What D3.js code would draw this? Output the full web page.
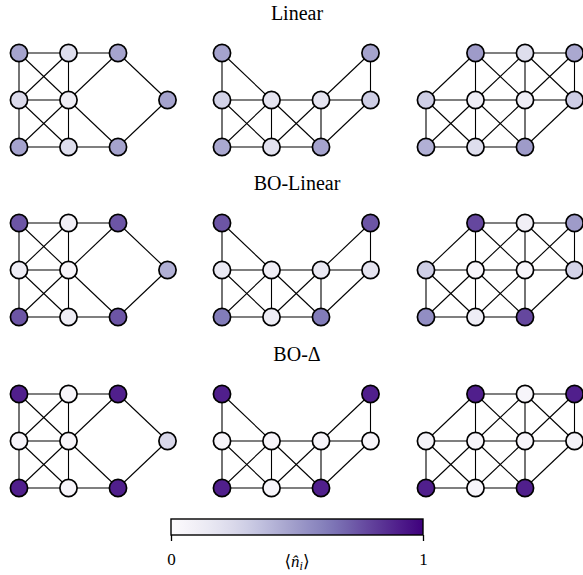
<!DOCTYPE html>
<html>
<head>
<meta charset="utf-8">
<script src="https://cdn.jsdelivr.net/npm/d3@7"></script>
<style>
  body { margin: 0; background: #fff; }
  text { font-family: "Liberation Serif", "DejaVu Serif", serif; }
</style>
</head>
<body>
<div id="chart"></div>
<script>
// row titles
var titles = ['Linear', 'BO-Linear', 'BO-\u0394'];

// lattice layouts (grid column, grid row) for the three clusters
var nodesA = [[0,0],[1,0],[2,0],[0,1],[1,1],[3,1],[0,2],[1,2],[2,2]];
var nodesB = [[0,0],[3,0],[0,1],[1,1],[2,1],[3,1],[0,2],[1,2],[2,2]];
var nodesC = [[1,0],[2,0],[3,0],[0,1],[1,1],[2,1],[3,1],[0,2],[1,2],[2,2]];

// edges as index pairs into the node arrays
var edgesA = [[0,1],[1,2],[0,3],[3,6],[1,4],[4,7],[3,4],[6,7],[7,8],
              [0,4],[1,3],[3,7],[4,6],[4,2],[4,8],[2,5],[8,5]];
var edgesB = [[0,2],[0,3],[1,5],[1,4],[2,3],[3,4],[4,5],[2,6],[3,7],[4,8],
              [6,7],[7,8],[2,7],[3,6],[3,8],[4,7],[5,8]];
var edgesC = [[0,1],[1,2],[3,0],[0,4],[1,5],[2,6],[0,5],[1,4],[1,6],[2,5],
              [3,4],[4,5],[5,6],[3,7],[4,8],[5,9],[7,8],[8,9],
              [3,8],[4,7],[4,9],[5,8],[6,9]];

// <n_i> per node, one array per (row, cluster)
var linearA = [0.47,0.22,0.47, 0.24,0.12,0.47, 0.47,0.22,0.47];
var linearB = [0.47,0.47, 0.28,0.18,0.18,0.30, 0.45,0.20,0.47];
var linearC = [0.50,0.22,0.45, 0.30,0.12,0.12,0.30, 0.42,0.22,0.50];

var boLinearA = [0.74,0.10,0.74, 0.12,0.05,0.42, 0.74,0.12,0.74];
var boLinearB = [0.74,0.74, 0.15,0.10,0.15,0.18, 0.62,0.12,0.62];
var boLinearC = [0.78,0.10,0.50, 0.30,0.05,0.05,0.27, 0.55,0.12,0.78];

var boDeltaA = [0.90,0.05,0.90, 0.05,0.05,0.25, 0.90,0.05,0.90];
var boDeltaB = [0.90,0.90, 0.05,0.05,0.05,0.05, 0.90,0.05,0.90];
var boDeltaC = [0.90,0.05,0.90, 0.07,0.05,0.05,0.07, 0.90,0.05,0.90];

var layouts = [
  {nodes: nodesA, edges: edgesA},
  {nodes: nodesB, edges: edgesB},
  {nodes: nodesC, edges: edgesC}
];
var rows = [
  [linearA, linearB, linearC],
  [boLinearA, boLinearB, boLinearC],
  [boDeltaA, boDeltaB, boDeltaC]
];

var W = 583, H = 575;
var svg = d3.select('#chart').append('svg').attr('width', W).attr('height', H);

var color = d3.scaleSequential(d3.interpolatePurples).domain([0, 1]);

var panelX = [19, 222, 426];
var rowY = [53, 223, 394];
var r = 8.6;

rows.forEach(function(row, ri){
    svg.append('text')
        .attr('x', 297).attr('y', rowY[ri] - 33)
        .attr('text-anchor', 'middle')
        .style('font-size', '20px')
        .text(titles[ri]);

    row.forEach(function(vals, ci){
        var lay = layouts[ci];
        var x = d3.scaleLinear().domain([0, 3]).range([panelX[ci], panelX[ci] + 148.5]);
        var y = d3.scaleLinear().domain([0, 2]).range([rowY[ri], rowY[ri] + 94]);
        var g = svg.append('g');

        g.selectAll('line').data(lay.edges).enter().append('line')
            .attr('x1', function(e){ return x(lay.nodes[e[0]][0]); })
            .attr('y1', function(e){ return y(lay.nodes[e[0]][1]); })
            .attr('x2', function(e){ return x(lay.nodes[e[1]][0]); })
            .attr('y2', function(e){ return y(lay.nodes[e[1]][1]); })
            .attr('stroke', '#000').attr('stroke-width', 1.1);

        g.selectAll('circle').data(lay.nodes).enter().append('circle')
            .attr('cx', function(d){ return x(d[0]); })
            .attr('cy', function(d){ return y(d[1]); })
            .attr('r', r)
            .attr('fill', function(d, i){ return color(vals[i]); })
            .attr('stroke', '#000').attr('stroke-width', 1.7);
    });
});

// colorbar
var cb = d3.scaleLinear().domain([0, 1]).range([171, 423]);
var defs = svg.append('defs');
var grad = defs.append('linearGradient').attr('id', 'cbgrad');
d3.range(0, 1.0001, 0.05).forEach(function(t){
    grad.append('stop').attr('offset', t).attr('stop-color', color(t));
});
svg.append('rect')
    .attr('x', cb(0)).attr('y', 519)
    .attr('width', cb(1) - cb(0)).attr('height', 16)
    .attr('fill', 'url(#cbgrad)')
    .attr('stroke', '#000').attr('stroke-width', 1.4);

var axis = svg.append('g').attr('transform', 'translate(0,535)')
    .call(d3.axisBottom(cb).tickValues([0, 1]).tickSize(6).tickPadding(12).tickFormat(d3.format('d')));
axis.select('.domain').remove();
axis.selectAll('line').attr('stroke-width', 1.3);
axis.selectAll('text')
    .style('font-size', '17px')
    .style('font-family', '"Liberation Serif", serif');

var lab = svg.append('text')
    .attr('x', 297).attr('y', 567)
    .attr('text-anchor', 'middle')
    .style('font-size', '17px');
lab.append('tspan').text('\u27E8');
lab.append('tspan').attr('font-style', 'italic').text('n\u0302');
lab.append('tspan').attr('font-style', 'italic').style('font-size', '12px').attr('dy', 3).text('i');
lab.append('tspan').attr('dy', -3).text('\u27E9');
</script>
</body>
</html>
